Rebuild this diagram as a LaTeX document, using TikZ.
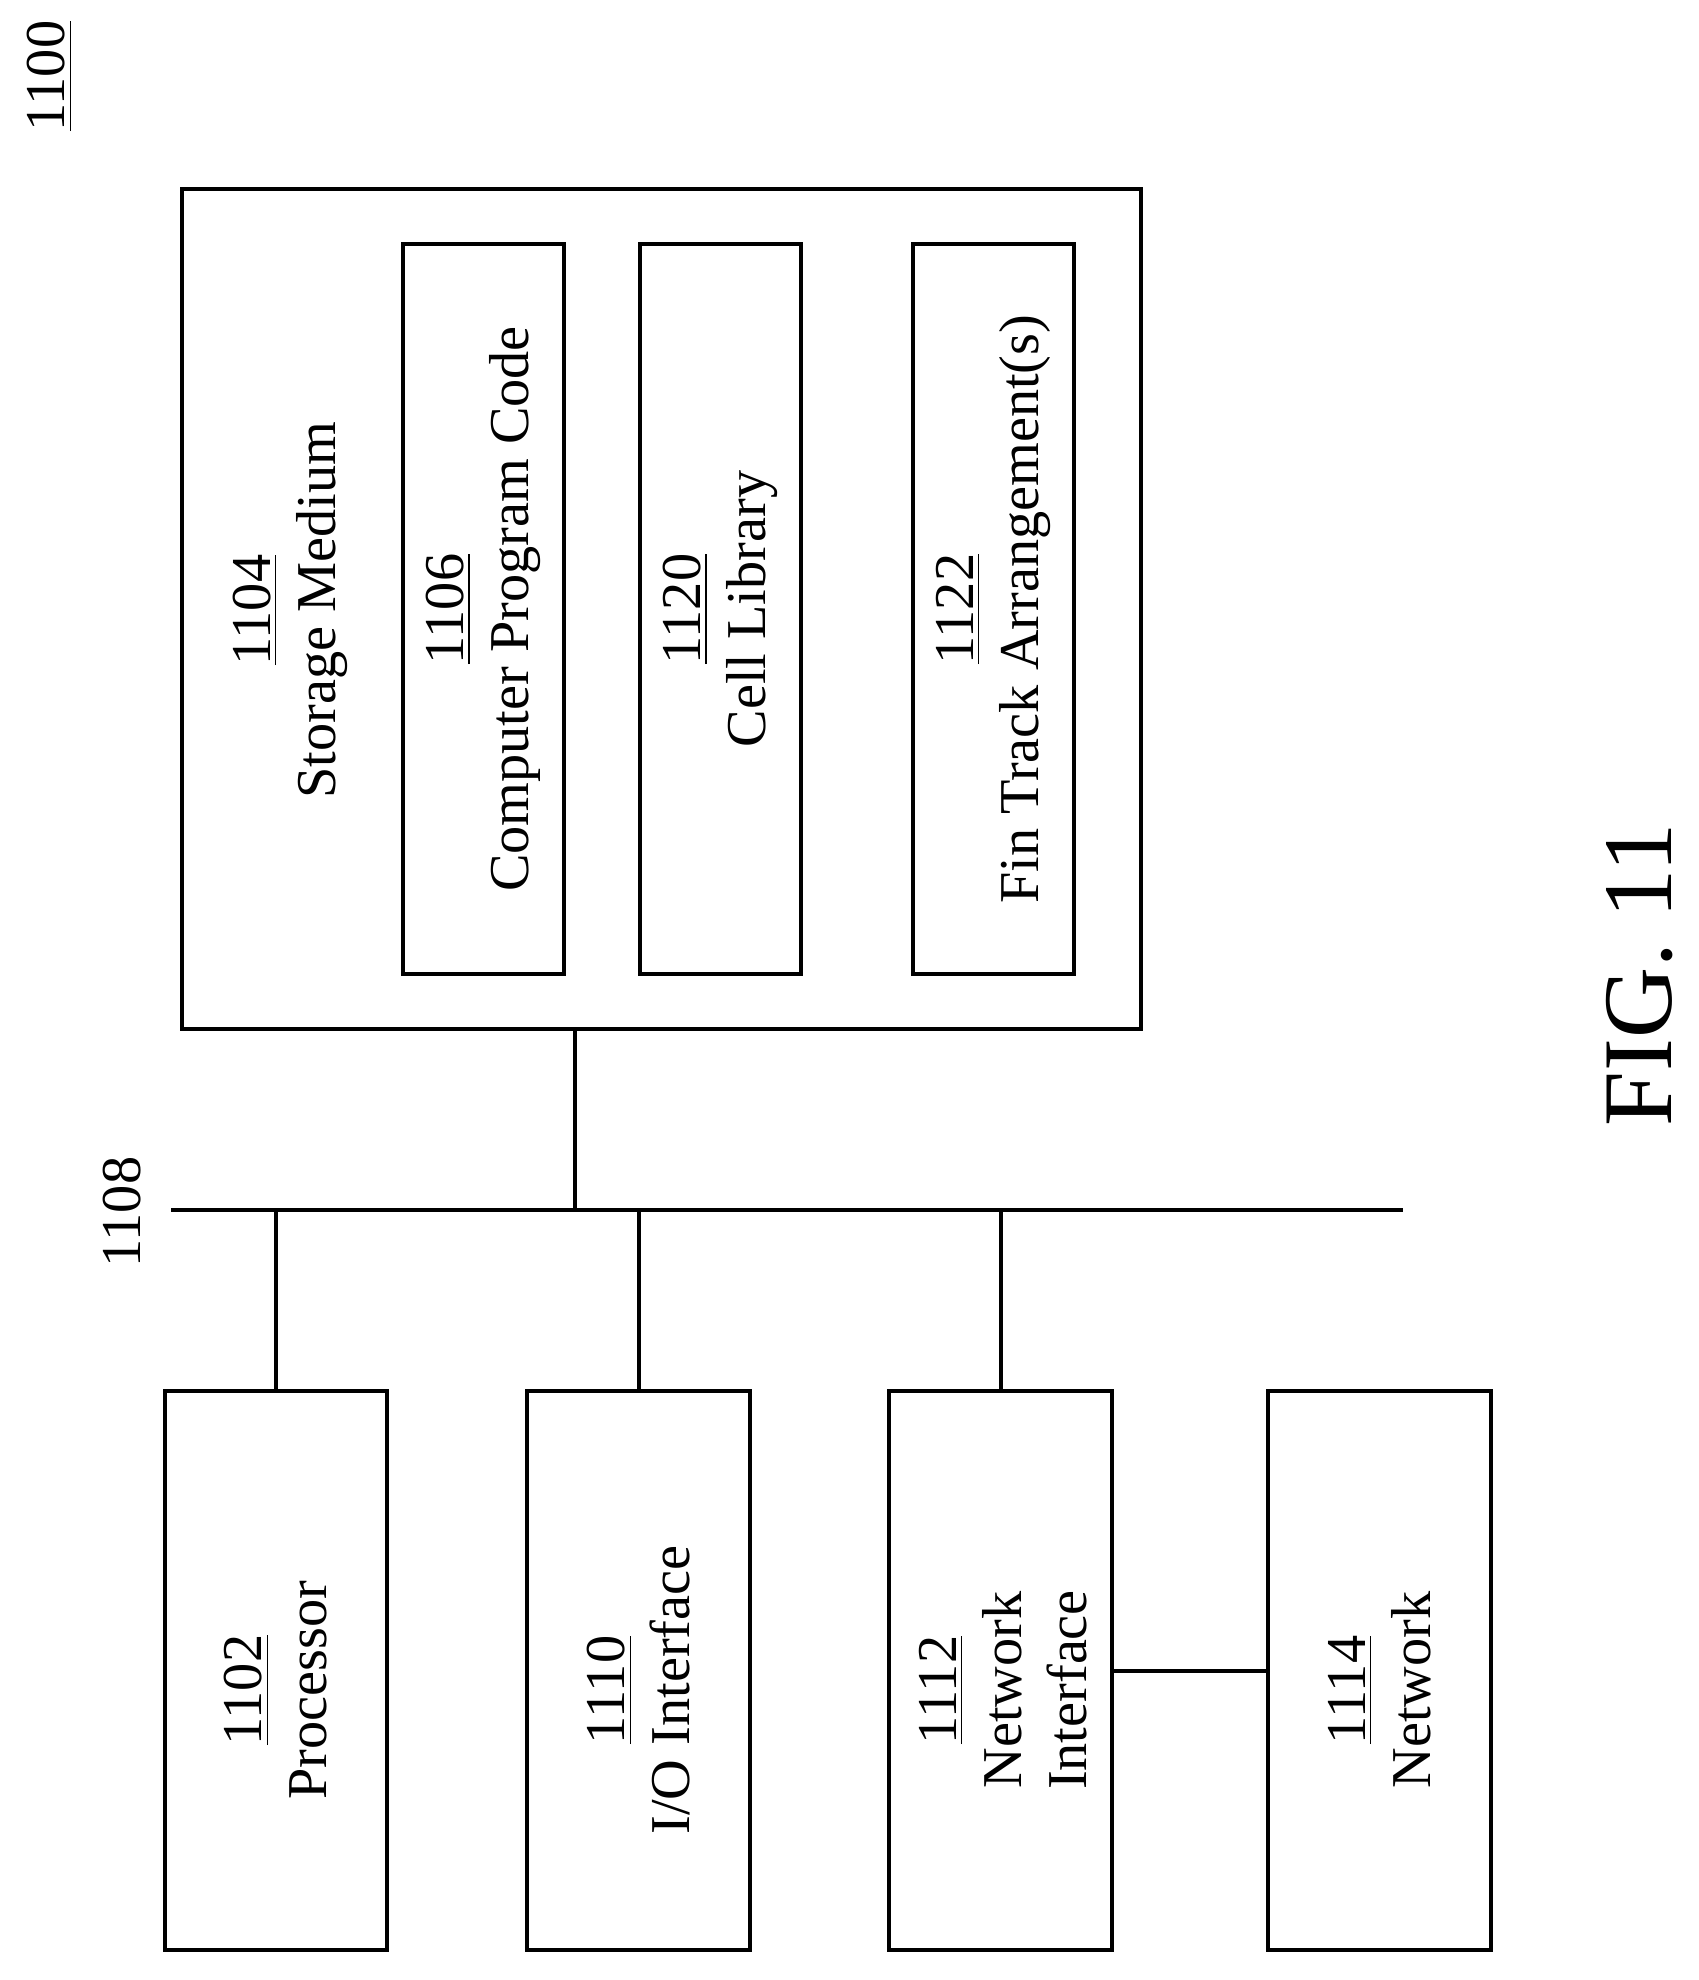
\documentclass[tikz,border=0pt]{standalone}
\usepackage{fontspec}
\setmainfont{Liberation Serif}
\begin{document}
\begin{tikzpicture}[x=0.01cm,y=-0.01cm,
  box/.style={draw,line width=1.1pt,rectangle,inner sep=0},
  lbl/.style={rotate=90,align=center,font=\fontsize{16}{18.5}\selectfont},
  ln/.style={line width=1.1pt}]
\useasboundingbox (0,0) rectangle (1698,1980);
\newcommand{\bx}[5]{\node[box,minimum width={(#4-#2)*0.01cm},minimum height={(#5-#3)*0.01cm}] (#1) at ({(#2+#4)/2},{(#3+#5)/2}) {};}
\bx{sm}{182}{189}{1141}{1029}
\bx{cp}{403}{244}{564}{974}
\bx{cl}{640}{244}{801}{974}
\bx{ft}{913}{244}{1074}{974}
\bx{pr}{165}{1391}{387}{1950}
\bx{io}{527}{1391}{750}{1950}
\bx{ni}{889}{1391}{1112}{1950}
\bx{nw}{1268}{1391}{1491}{1950}
\node[lbl] (tsm) at (290,610) {\underline{1104}\\Storage Medium};
\node[lbl] (tcp) at (cp) {\underline{1106}\\Computer Program Code};
\node[lbl] (tcl) at (cl) {\underline{1120}\\Cell Library};
\node[lbl] (tft) at (ft) {\underline{1122}\\Fin Track Arrangement(s)};
\node[lbl] (tpr) at (276,1690) {\underline{1102}\\Processor};
\node[lbl] (tio) at (639,1690) {\underline{1110}\\I/O Interface};
\node[lbl] (tni) at (1003,1690) {\underline{1112}\\Network\\Interface};
\node[lbl] (tnw) at (1380,1690) {\underline{1114}\\Network};
\node[lbl] (l1108) at (122,1212) {1108};
\node[lbl] (l1100) at (50,76) {\underline{1100}};
\node[rotate=90,font=\fontsize{28}{30}\selectfont] (fig) at (1640,975) {FIG. 11};
\coordinate (b0) at (171,1210);
\coordinate (b1) at (1403,1210);
\draw[ln] (b0) -- (b1);
\draw[ln] (sm.south -| 575,0) -- (575,1210);
\draw[ln] (pr.north -| 276,0) -- (276,1210);
\draw[ln] (io.north -| 639,0) -- (639,1210);
\draw[ln] (ni.north -| 1001,0) -- (1001,1210);
\draw[ln] (ni.east |- 0,1671) -- (nw.west |- 0,1671);
\end{tikzpicture}
\end{document}
